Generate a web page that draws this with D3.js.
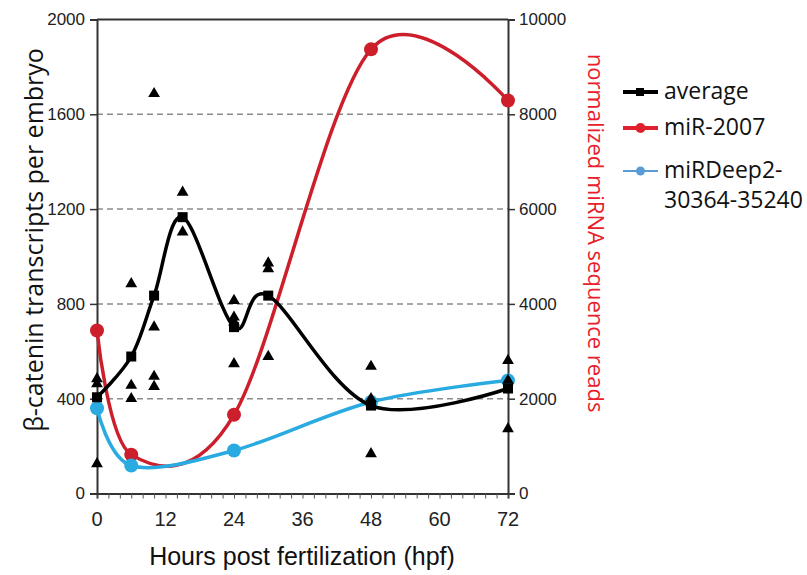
<!DOCTYPE html>
<meta charset="utf-8">
<style>
body { margin: 0; background: #fff; }
</style>
<svg width="807" height="575"></svg>
<script src="https://d3js.org/d3.v7.min.js"></script>
<script>

// beta-catenin, averages per time point
var hours = [0, 6, 10, 15, 24, 30, 48, 72];
var average = [406, 578, 835, 1166, 702, 835, 371, 443];

// individual replicates (triangles)
var repHours = [0, 0, 0, 6, 6, 6, 10, 10, 10, 10, 15, 15, 24, 24, 24, 24, 30, 30, 30, 48, 48, 48, 72, 72, 72];
var repValues = [484, 463, 125, 885, 456, 400, 1687, 702, 494, 451, 1271, 1103, 814, 744, 723, 547, 972, 948, 578, 536, 400, 167, 561, 477, 273];

// miRNA reads (right axis)
var mirHours = [0, 6, 24, 48, 72];
var mir2007 = [3440, 820, 1660, 9370, 8290];
var mirDeep = [1800, 590, 907, 1930, 2384];

var xTicks = [0, 12, 24, 36, 48, 60, 72];
var yLeftTicks = [0, 400, 800, 1200, 1600, 2000];
var yRightTicks = [0, 2000, 4000, 6000, 8000, 10000];

var legendItems = [
  {label: ["average"], color: "#000", width: 4, marker: "square"},
  {label: ["miR-2007"], color: "#e0202e", width: 4, marker: "circle"},
  {label: ["miRDeep2-", "30364-35240"], color: "#5b9bd5", width: 2, marker: "circle"}
];

var svg = d3.select("svg");
var pLeft = 97, pRight = 508, pTop = 19.5, pBottom = 493.5;
var arial = "'Liberation Sans', Arial, sans-serif";

var x = d3.scaleLinear().domain([0, 72]).range([pLeft, pRight]);
var yL = d3.scaleLinear().domain([0, 2000]).range([pBottom, pTop]);
var yR = d3.scaleLinear().domain([0, 10000]).range([pBottom, pTop]);

var red = "#cc1f2b", blue = "#29abe2";

// dashed gridlines
svg.append("g").selectAll("line")
  .data(yLeftTicks.filter(function(d) { return d > 0 && d < 2000; }))
  .enter().append("line")
    .attr("x1", pLeft).attr("x2", pRight)
    .attr("y1", function(d) { return yL(d); })
    .attr("y2", function(d) { return yL(d); })
    .attr("stroke", "#8c8c8c")
    .attr("stroke-width", 1.5)
    .attr("stroke-dasharray", "6,4");

// top border
svg.append("line")
  .attr("x1", pLeft).attr("x2", pRight)
  .attr("y1", pTop).attr("y2", pTop)
  .attr("stroke", "#333").attr("stroke-width", 2);

// axes
var gx = svg.append("g")
  .attr("transform", "translate(0," + pBottom + ")")
  .call(d3.axisBottom(x).tickValues(d3.range(0, 73, 2)).tickSize(5).tickFormat(""));
gx.selectAll(".tick line").attr("stroke", "#555").attr("stroke-width", 1);
gx.select(".domain").attr("stroke", "#333").attr("stroke-width", 2);

svg.append("g").selectAll("text")
  .data(xTicks)
  .enter().append("text")
    .attr("x", function(d) { return x(d); })
    .attr("y", 526)
    .attr("text-anchor", "middle")
    .style("font-family", arial)
    .style("font-size", "20px")
    .attr("fill", "#222")
    .text(function(d) { return d; });

var gl = svg.append("g")
  .attr("transform", "translate(" + pLeft + ",0)")
  .call(d3.axisLeft(yL).tickValues(yLeftTicks).tickSize(7).tickPadding(5).tickFormat(d3.format("d")));
gl.selectAll(".tick text").style("font-size", "17px").style("font-family", arial).attr("fill", "#222");
gl.selectAll(".tick line").attr("stroke", "#333").attr("stroke-width", 1.5);
gl.select(".domain").attr("stroke", "#333").attr("stroke-width", 2);

var gr = svg.append("g")
  .attr("transform", "translate(" + pRight + ",0)")
  .call(d3.axisRight(yR).tickValues(yRightTicks).tickSize(7).tickPadding(4).tickFormat(d3.format("d")));
gr.selectAll(".tick text").style("font-size", "17px").style("font-family", arial).attr("fill", "#222");
gr.selectAll(".tick line").attr("stroke", "#333").attr("stroke-width", 1.5);
gr.select(".domain").attr("stroke", "#333").attr("stroke-width", 2);

// smoothed lines
var curve = d3.curveCardinal.tension(0);

var lineR = d3.line()
  .x(function(d) { return x(d[0]); })
  .y(function(d) { return yR(d[1]); })
  .curve(curve);
var lineL = d3.line()
  .x(function(d) { return x(d[0]); })
  .y(function(d) { return yL(d[1]); })
  .curve(curve);

var redPts = d3.zip(mirHours, mir2007);
var bluePts = d3.zip(mirHours, mirDeep);
var blackPts = d3.zip(hours, average);

svg.append("path").datum(redPts)
  .attr("d", lineR).attr("fill", "none")
  .attr("stroke", red).attr("stroke-width", 3.5);
svg.selectAll(".redDot").data(redPts).enter().append("circle")
  .attr("cx", function(d) { return x(d[0]); })
  .attr("cy", function(d) { return yR(d[1]); })
  .attr("r", 7).attr("fill", red);

svg.append("path").datum(bluePts)
  .attr("d", lineR).attr("fill", "none")
  .attr("stroke", blue).attr("stroke-width", 3.5);
svg.selectAll(".blueDot").data(bluePts).enter().append("circle")
  .attr("cx", function(d) { return x(d[0]); })
  .attr("cy", function(d) { return yR(d[1]); })
  .attr("r", 7).attr("fill", blue);

svg.append("path").datum(blackPts)
  .attr("d", lineL).attr("fill", "none")
  .attr("stroke", "#000").attr("stroke-width", 3.5);
svg.selectAll(".sq").data(blackPts).enter().append("rect")
  .attr("x", function(d) { return x(d[0]) - 5; })
  .attr("y", function(d) { return yL(d[1]) - 5; })
  .attr("width", 10).attr("height", 10).attr("fill", "#000");

// replicates
var tri = d3.symbol().type(d3.symbolTriangle).size(60);
svg.selectAll(".tri").data(d3.zip(repHours, repValues)).enter().append("path")
  .attr("d", tri)
  .attr("transform", function(d) { return "translate(" + x(d[0]) + "," + yL(d[1]) + ")"; })
  .attr("fill", "#000");

// axis titles
svg.append("text")
  .attr("transform", "translate(" + 43 + ",240) rotate(-90)")
  .attr("text-anchor", "middle")
  .style("font-family", "'Open Sans', sans-serif")
  .style("font-size", "25px")
  .attr("fill", "#111")
  .text("β-catenin transcripts per embryo");

svg.append("text")
  .attr("transform", "translate(" + 588 + ",233) rotate(90)")
  .attr("text-anchor", "middle")
  .style("font-family", "'Open Sans', sans-serif")
  .style("font-size", "22px")
  .attr("fill", "#e8202a")
  .text("normalized miRNA sequence reads");

svg.append("text")
  .attr("x", 302).attr("y", 565)
  .attr("text-anchor", "middle")
  .style("font-family", arial)
  .style("font-size", "25px")
  .attr("fill", "#111")
  .text("Hours post fertilization (hpf)");

// legend
var legY = [92, 128, 171];
var leg = svg.append("g");
legendItems.forEach(function(it, i) {
  var g = leg.append("g").attr("transform", "translate(623," + legY[i] + ")");
  g.append("line").attr("x1", 0).attr("x2", 35)
    .attr("stroke", it.color).attr("stroke-width", it.width);
  if (it.marker == "square") {
    g.append("rect").attr("x", 13).attr("y", -4).attr("width", 8).attr("height", 8).attr("fill", it.color);
  } else {
    g.append("circle").attr("cx", 17.5).attr("r", it.width == 4 ? 5 : 4.5).attr("fill", it.color);
  }
  it.label.forEach(function(t, j) {
    g.append("text")
      .attr("x", 41).attr("y", 7 + j * 30)
      .style("font-family", "'Open Sans', sans-serif")
      .style("font-size", "23px")
      .attr("fill", "#111")
      .text(t);
  });
});

</script>
